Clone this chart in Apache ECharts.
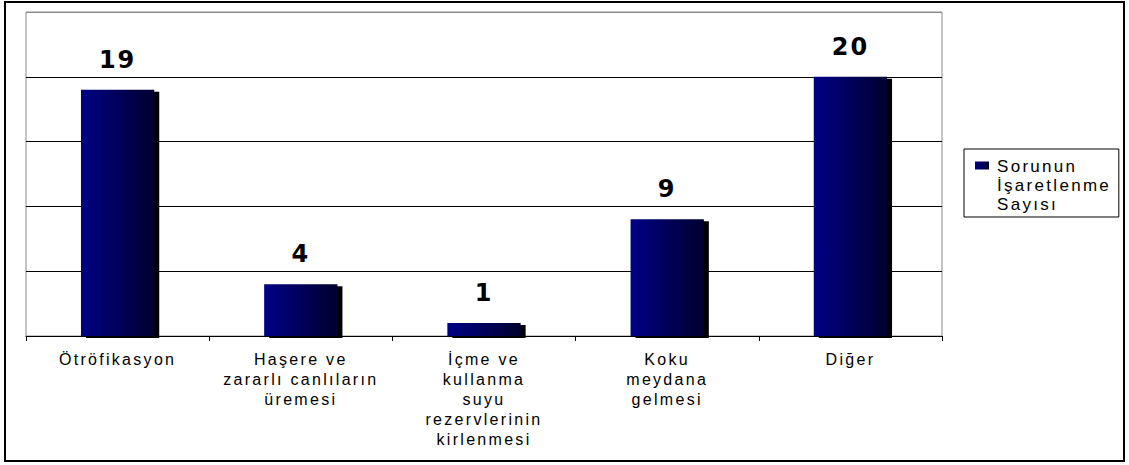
<!DOCTYPE html>
<html>
<head>
<meta charset="utf-8">
<script src="https://cdn.jsdelivr.net/npm/echarts@6/dist/echarts.min.js"></script>
<style>
  html, body { margin: 0; padding: 0; background: #fff; }
  #chart { width: 1129px; height: 465px; }
  /* the original text is drawn wide; widen it a little */
  #chart text { letter-spacing: 2.3px; }
  #chart text[style*="bold"] { letter-spacing: 2px; }
</style>
</head>
<body>
<div id="chart"></div>
<script>
// categories as they appear on the x axis (line breaks as in the original)
const categories = [
  "Ötröfikasyon",
  "Haşere ve\nzararlı canlıların\nüremesi",
  "İçme ve\nkullanma\nsuyu\nrezervlerinin\nkirlenmesi",
  "Koku\nmeydana\ngelmesi",
  "Diğer"
];
const counts = [19, 4, 1, 9, 20];
const seriesName = "Sorunun İşaretlenme Sayısı";

const chart = echarts.init(document.getElementById("chart"), null, { renderer: "svg" });

chart.setOption({
  animation: false,
  textStyle: { fontFamily: "'Liberation Sans', Arial, sans-serif" },
  graphic: [
    {
      type: "rect",
      shape: { x: 5, y: 2, width: 1119, height: 459 },
      style: { fill: "none", stroke: "#000", lineWidth: 2 },
      silent: true
    }
  ],
  grid: {
    left: 26,
    top: 12,
    right: 187,
    bottom: 129,
    show: true,
    borderColor: "#8c8c8c",
    borderWidth: 1
  },
  legend: {
    left: 964,
    top: 149,
    orient: "vertical",
    borderColor: "#000",
    borderWidth: 1,
    padding: [8, 33, 3, 11],
    // square sits at the top, level with the first text line
    icon: "path://M0,0L14,0L14,8L0,8Z M0,48L0.01,48L0.01,48.01Z",
    itemWidth: 14,
    itemHeight: 48,
    itemGap: 4,
    formatter: () => "Sorunun\nİşaretlenme\nSayısı",
    textStyle: {
      fontSize: 17,
      color: "#000",
      lineHeight: 19,
      padding: [0, 0, 0, 3],
      fontFamily: "'Liberation Sans', Arial, sans-serif"
    },
    data: [seriesName]
  },
  xAxis: {
    type: "category",
    data: categories,
    axisLine: { lineStyle: { color: "#000", width: 1 } },
    axisTick: { show: true, length: 5, lineStyle: { color: "#000" } },
    axisLabel: {
      interval: 0,
      margin: 13,
      fontSize: 16,
      lineHeight: 20,
      color: "#000",
      align: "center",
      fontFamily: "'Liberation Sans', Arial, sans-serif"
    }
  },
  yAxis: {
    type: "value",
    min: 0,
    max: 25,
    interval: 5,
    axisLabel: { show: false },
    axisLine: { show: false },
    axisTick: { show: false },
    splitLine: {
      lineStyle: { color: ["#000", "#000", "#000", "#000", "#000", "#8c8c8c"], width: 1 }
    }
  },
  series: [
    {
      name: seriesName,
      type: "bar",
      data: counts,
      barWidth: "40%",
      itemStyle: {
        color: new echarts.graphic.LinearGradient(0, 0, 1, 0, [
          { offset: 0, color: "#000085" },
          { offset: 1, color: "#00002e" }
        ]),
        shadowColor: "#000",
        shadowOffsetX: 5,
        shadowOffsetY: 2,
        shadowBlur: 0
      },
      label: {
        show: true,
        position: "top",
        distance: 18,
        fontSize: 24,
        fontWeight: "bold",
        fontFamily: "DejaVu Sans",
        color: "#000"
      }
    }
  ]
});
</script>
</body>
</html>
